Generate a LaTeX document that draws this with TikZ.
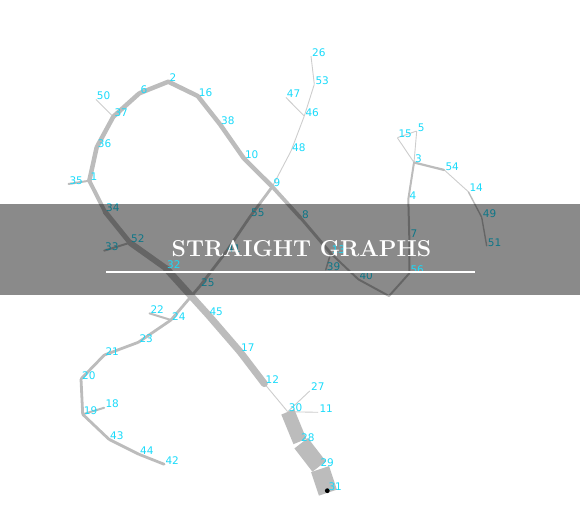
\documentclass[tikz,border=0pt]{standalone}
\usepackage{fontspec}
\usetikzlibrary{calc}
\newfontfamily\lblfont{DejaVu Sans}
\definecolor{lblcyan}{RGB}{25,218,250}
\definecolor{edgegray}{RGB}{188,188,188}
\definecolor{thingray}{RGB}{205,205,205}
\tikzset{
  pt/.style={inner sep=0pt,minimum size=0pt},
  lbl/.style={font=\lblfont\fontsize{10.5}{10.5}\selectfont,text=lblcyan,anchor=base west,inner sep=0pt,xshift=1pt},
  ed/.style={draw=edgegray,line cap=round,line join=round},
  thin edge/.style={draw=thingray,line width=0.9pt},
}
\begin{document}
\begin{tikzpicture}[x=1pt,y=-1pt]
\useasboundingbox (0,0) rectangle (580,512);
% nodes
\foreach \n/\x/\y in {
 1/89.3/180.7, 2/168.3/81.7, 3/414/162.5, 4/408.3/199.3, 5/416.7/131, 6/139.3/93.3,
 7/409.3/237.5, 8/301/218.3, 9/272.3/186.7, 10/243.8/158.3, 11/318.3/412.3, 12/264.5/383.8,
 13/330.7/253.3, 14/468.3/191.7, 15/397.3/137.7, 16/197.7/96, 17/240/351.7, 18/104.3/407.7,
 19/82.7/414.3, 20/81/379, 21/104.3/355, 22/149.3/313.3, 23/138.3/342.3, 24/171/320,
 25/200/286, 26/311/56, 27/310/390.7, 28/300/441.7, 29/319.3/466.7, 30/287.7/411.7,
 31/327.3/490.7, 32/166/268.3, 33/104/250.7, 34/105/211.7, 35/68.3/184, 36/96.7/147.3,
 37/113.3/116.7, 38/220/124.3, 39/325.7/270, 40/358.3/279.3, 41/226/252, 42/164.3/464.3,
 43/109/439.3, 44/139/454.3, 45/208.3/315, 46/304.3/116, 47/285.7/97.3, 48/291/151,
 49/481.7/217.3, 50/95.7/99.3, 51/486.7/246, 52/130/242.7, 53/314.3/84.3, 54/444.3/170,
 55/250/216.7, 56/409.3/273.3}
 {\node[pt] (n\n) at (\x,\y) {};}
\coordinate (nx) at (389,296);
% thin edges
\draw[thin edge] (n9)--(n48)--(n46)--(n53)--(n26);
\draw[thin edge] (n46)--(n47);
\draw[thin edge] (n37)--(n50);
\draw[thin edge] (n12)--(n30);
\draw[thin edge] (n30)--(n27);
\draw[thin edge] (n30)--(n11);
\draw[thin edge] (n15)--(n5)--(n3)--(n15);
\draw[thin edge] (n54)--(n14);
\draw[ed,line width=1.4pt] (n14)--(n49)--(n51);
% medium edges
\draw[ed,line width=2pt] (n1)--(n35);
\draw[ed,line width=2pt] (n52)--(n33);
\draw[ed,line width=2.2pt] (n3)--(n54);
\draw[ed,line width=2pt] (n3)--(n4)--(n7)--(n56)--(nx)--(n40)--(n13);
\draw[ed,line width=1.5pt] (n13)--(n39);
\draw[ed,line width=3pt] (n13)--(n8);
\draw[ed,line width=3.8pt] (n8)--(n9);
\draw[ed,line width=2.8pt] (n9)--(n55)--(n41)--(n25)--(n24)--(n23)--(n21)--(n20)--(n19)--(n43)--(n44)--(n42);
\draw[ed,line width=2pt] (n24)--(n22);
\draw[ed,line width=2pt] (n19)--(n18);
% thick top arc
\draw[ed,line width=4.5pt] (n1)--(n36)--(n37)--(n6)--(n2)--(n16)--(n38)--(n10)--(n9);
% thick diagonal
\draw[ed,line width=4pt] (n1)--(n34);
\draw[ed,line width=5pt] (n34)--(n52);
\draw[ed,line width=6pt] (n52)--(n32);
\draw[ed,line width=7pt] (n32)--(n45)--(n17)--(n12);
% very thick bottom
\draw[draw=edgegray,line width=14pt] (n30)--(n28);
\draw[draw=edgegray,line width=17pt] ($(n28)!0.06!(n29)$)--(n29);
\draw[draw=edgegray,line width=19pt] ($(n29)!0.1!(n31)$)--($(n29)!1.08!(n31)$);
\fill[black] (n31) circle (2.4pt);
% labels (under band)
\foreach \n in {1,2,3,4,5,6,7,8,9,10,11,12,14,15,16,17,18,19,20,21,22,23,24,25,26,27,28,29,30,31,33,34,35,36,37,38,39,40,41,42,43,44,45,46,47,48,49,50,51,52,53,54,55}
 {\node[lbl] (l\n) at (n\n) {\n};}
% band
\fill[black,opacity=0.46] (0,204) rectangle (580,295);
% labels in front
\node[lbl] (l32) at (n32) {32};
\node[lbl] (l56) at (n56) {56};
\node[lbl] (l13) at (n13) {13};
% title
\node[anchor=base,inner sep=0pt,text=white,font=\fontsize{23}{23}\selectfont\bfseries] (title) at (301.5,256) {STRAIGHT GRAPHS};
\coordinate (ul) at (106,271.5);
\coordinate (ur) at (475,271.5);
\draw[white,line width=2pt] (ul)--(ur);
\end{tikzpicture}
\end{document}
